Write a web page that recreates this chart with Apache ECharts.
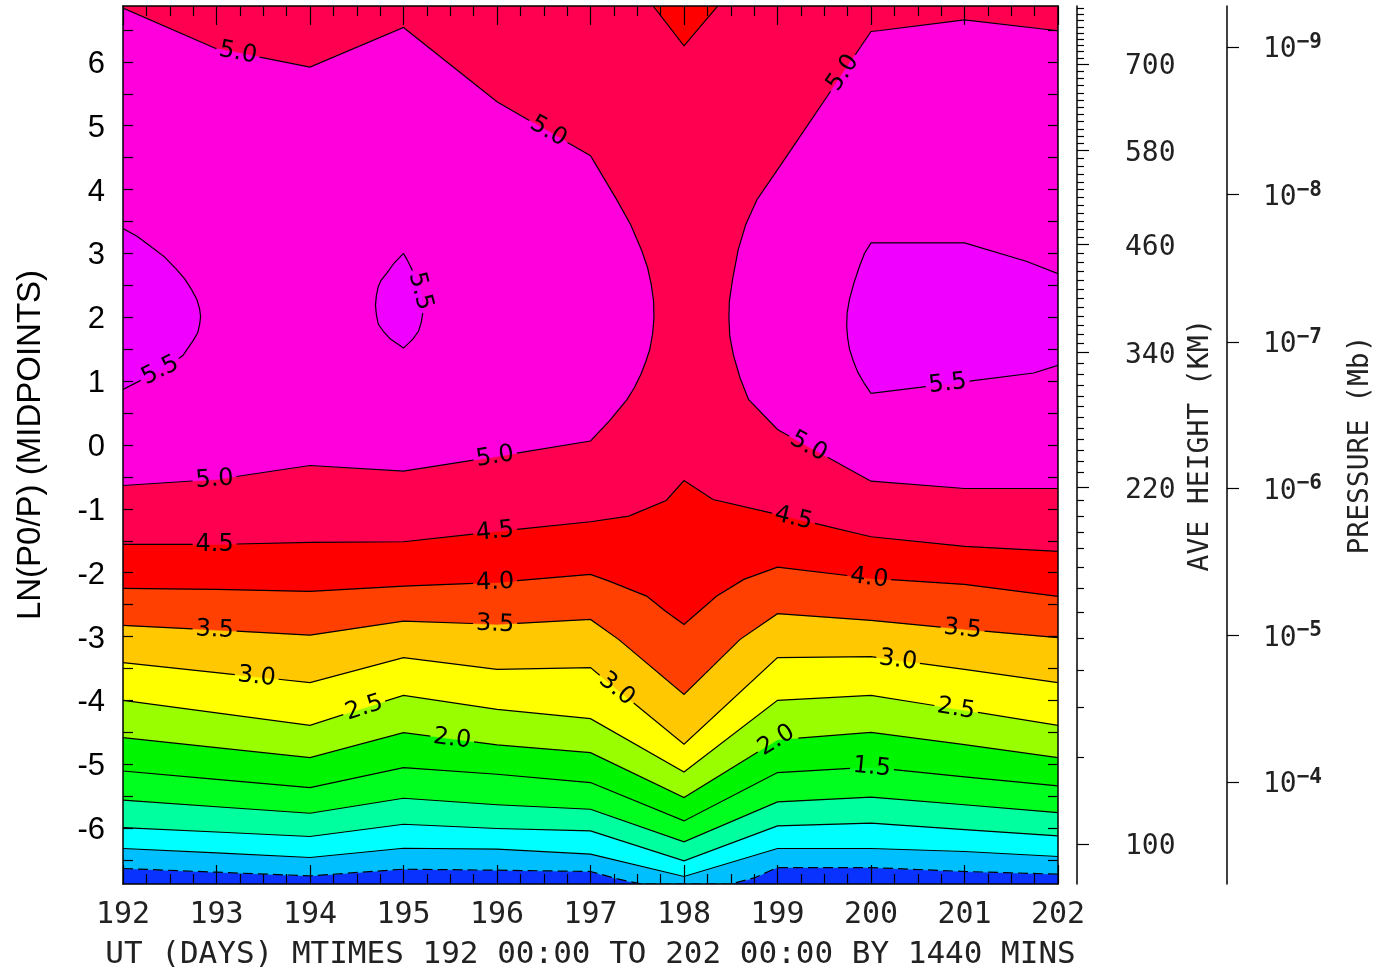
<!DOCTYPE html>
<html><head><meta charset="utf-8">
<script src="https://cdn.jsdelivr.net/npm/echarts@6/dist/echarts.min.js"></script>
<style>html,body{margin:0;padding:0;background:#fff}#chart{width:1388px;height:973px}</style>
</head><body><div id="chart"></div>
<script>
// ---------------- data (x = UT day, y = LN(P0/P)) ----------------
const days = [192,193,194,195,196,197,198,199,200,201,202];
const yMin = -6.875, yMax = 6.875;
const leftTickLabels = [-6,-5,-4,-3,-2,-1,0,1,2,3,4,5,6];
const frameTicks = [-6.5,-6,-5.5,-5,-4.5,-4,-3.5,-3,-2.5,-2,-1.5,-1,-0.5,0,0.5,1,1.5,2,2.5,3,3.5,4,4.5,5,5.5,6,6.5];
const heightLabels = [100,220,340,460,580,700];
const heightLabelLn = [-6.252,-0.665,1.452,3.138,4.614,5.966];
const heightAnchorKm = [100,110,120,130,140,150,160,170,180,190,200,210,220,230,240,340,460,580,700,790];
const heightAnchorLn = [-6.252,-4.890,-4.108,-3.529,-3.028,-2.621,-2.246,-1.917,-1.620,-1.369,-1.119,-0.869,-0.665,-0.432,-0.250,1.452,3.138,4.614,5.966,6.842];
const pressureExp = [-9,-8,-7,-6,-5,-4];
const pressureLn = [6.232,3.920,1.615,-0.681,-2.981,-5.277];

// contour lines
const cm05 = [[192,-6.632],[193,-6.690],[194,-6.748],[195,-6.643],[196,-6.659],[197,-6.679],[197.3,-6.80],[197.55,-6.92],[198.5,-6.92],[198.75,-6.78],[199,-6.617],[200,-6.617],[201,-6.679],[202,-6.721]];
const c00 = [[192,-6.319],[193,-6.388],[194,-6.460],[195,-6.315],[196,-6.330],[197,-6.408],[198,-6.757],[199,-6.319],[200,-6.319],[201,-6.366],[202,-6.444]];
const c05 = [[192,-5.991],[193,-6.061],[194,-6.131],[195,-5.939],[196,-6.006],[197,-6.044],[198,-6.513],[199,-5.966],[200,-5.923],[201,-6.022],[202,-6.122]];
const c10 = [[192,-5.563],[193,-5.665],[194,-5.767],[195,-5.532],[196,-5.634],[197,-5.704],[198,-6.216],[199,-5.590],[200,-5.516],[201,-5.634],[202,-5.756]];
const c15 = [[192,-5.105],[193,-5.235],[194,-5.365],[195,-5.052],[196,-5.156],[197,-5.286],[198,-5.887],[199,-5.130],[200,-5.047],[201,-5.196],[202,-5.339]];
const c20 = [[192,-4.582],[193,-4.739],[194,-4.895],[195,-4.504],[196,-4.695],[197,-4.817],[198,-5.521],[199,-4.617],[200,-4.499],[201,-4.692],[202,-4.895]];
const c25 = [[192,-3.998],[193,-4.194],[194,-4.390],[195,-3.920],[196,-4.139],[197,-4.285],[198,-5.121],[199,-3.998],[200,-3.920],[201,-4.155],[202,-4.390]];
const c30 = [[192,-3.408],[193,-3.565],[194,-3.721],[195,-3.330],[196,-3.513],[197,-3.487],[198,-4.687],[199,-3.330],[200,-3.315],[201,-3.513],[202,-3.721]];
const c35 = [[192,-2.825],[193,-2.898],[194,-2.977],[195,-2.757],[196,-2.809],[197,-2.731],[197.3,-3.044],[198,-3.905],[198.6,-3.044],[199,-2.642],[200,-2.746],[201,-2.887],[202,-3.017]];
const c40 = [[192,-2.246],[193,-2.261],[194,-2.293],[195,-2.210],[196,-2.152],[197,-2.027],[197.2,-2.131],[197.6,-2.366],[197.8,-2.601],[198,-2.809],[198.35,-2.366],[198.64,-2.105],[199,-1.912],[200,-2.089],[201,-2.183],[202,-2.371]];
const c45 = [[192,-1.557],[193,-1.557],[194,-1.526],[195,-1.515],[196,-1.354],[197,-1.202],[197.41,-1.114],[197.81,-0.869],[198,-0.556],[198.31,-0.853],[199,-1.088],[200,-1.437],[201,-1.588],[202,-1.667]];
const c45top = [[197.67,6.875],[198,6.252],[198.36,6.875]];
const c50L = [[192,6.842],[193,6.205],[194,5.919],[195,6.538],[196,5.375],[197,4.531],[197.28,3.842],[197.43,3.45],[197.544,3.059],[197.61,2.78],[197.65,2.512],[197.675,2.25],[197.679,1.995],[197.665,1.75],[197.634,1.495],[197.59,1.30],[197.538,1.103],[197.47,0.90],[197.39,0.712],[197.2,0.375],[197,0.063],[196,-0.180],[195,-0.410],[194,-0.321],[193,-0.540],[192,-0.634]];
const c50R = [[202,6.487],[201,6.659],[200.1,6.491],[200,6.476],[199.03,4.374],[198.78,3.842],[198.66,3.45],[198.58,3.06],[198.52,2.60],[198.485,2.25],[198.48,2.0],[198.49,1.70],[198.53,1.40],[198.60,1.05],[198.69,0.712],[199.0,0.243],[200,-0.567],[201,-0.681],[202,-0.681]];
const c55L = [[192,3.39],[192.15,3.27],[192.29,3.118],[192.44,2.95],[192.57,2.754],[192.66,2.60],[192.73,2.441],[192.79,2.28],[192.82,2.128],[192.83,2.01],[192.82,1.894],[192.80,1.76],[192.75,1.635],[192.64,1.400],[192.42,1.18],[192.2,1.02],[192,0.869]];
const c55M = [[195.0,3.001],[194.90,2.85],[194.82,2.688],[194.76,2.58],[194.73,2.480],[194.71,2.34],[194.70,2.191],[194.71,2.04],[194.73,1.894],[194.79,1.77],[194.86,1.659],[194.93,1.59],[195.0,1.518],[195.1,1.659],[195.16,1.78],[195.19,1.921],[195.21,2.11],[195.2,2.30],[195.16,2.52],[195.1,2.719],[195.05,2.87]];
const c55R = [[202,2.684],[201.66,2.877],[201,3.164],[200,3.164],[199.93,3.00],[199.88,2.811],[199.82,2.55],[199.77,2.285],[199.745,2.07],[199.74,1.867],[199.75,1.68],[199.77,1.502],[199.81,1.32],[199.86,1.137],[199.93,0.96],[200,0.808],[201.74,1.127],[202,1.247]];

// label anchors: [line, x (day), occurrence along the line]
const contourLabels = [
  ['c50L',193.23,0],['c50L',196.55,0],['c50R',199.70,0],
  ['c55L',192.40,1],['c55M',195.18,1],['c55R',200.82,1],
  ['c50L',192.98,1],['c50L',195.98,1],['c50R',199.33,1],
  ['c45',192.98,0],['c45',195.98,0],['c45',199.17,0],
  ['c40',195.98,0],['c40',199.98,0],
  ['c35',192.98,0],['c35',195.98,0],['c35',200.98,0],
  ['c30',193.43,0],['c30',197.28,0],['c30',200.29,0],
  ['c25',194.58,0],['c25',200.91,0],
  ['c20',195.52,0],['c20',198.99,0],
  ['c15',200.01,0]
];

const xTitle = 'UT (DAYS) MTIMES 192 00:00 TO 202 00:00 BY 1440 MINS';

// ---------------- styling ----------------
const colBelow = '#0a32ff';
const bandColors = {cm05:'#00bfff', c00:'#00ffff', c05:'#00ff9f', c10:'#00ff1e', c15:'#00f500', c20:'#99ff00',
  c25:'#ffff00', c30:'#ffc800', c35:'#ff4000', c40:'#ff0000', c45:'#ff0050', c50:'#ff00dc', c55:'#f000ff'};
const lines = {cm05, c00, c05, c10, c15, c20, c25, c30, c35, c40, c45, c45top, c50L, c50R, c55L, c55M, c55R};
const lineLevel = {cm05:'-0.5', c00:'0.0', c05:'0.5', c10:'1.0', c15:'1.5', c20:'2.0', c25:'2.5', c30:'3.0', c35:'3.5',
  c40:'4.0', c45:'4.5', c45top:'4.5', c50L:'5.0', c50R:'5.0', c55L:'5.5', c55M:'5.5', c55R:'5.5'};
const closedLines = {c55M:true};
const mono = '"DejaVu Sans Mono", monospace';
const sans = '"Liberation Sans", Arial, sans-serif';

const x0 = days[0], x1 = days[days.length-1];
function clampY(v){ return Math.max(yMin, Math.min(yMax, v)); }
function above(line){ return line.concat([[x1,yMax],[x0,yMax]]); }

function renderFills(params, api){
  const polys = [];
  polys.push([[[x0,yMin],[x1,yMin],[x1,yMax],[x0,yMax]], colBelow]);
  ['cm05','c00','c05','c10','c15','c20','c25','c30','c35','c40'].forEach(k=>polys.push([above(lines[k]), bandColors[k]]));
  polys.push([c45.concat([[x1,yMax]]).concat(c45top.slice().reverse()).concat([[x0,yMax]]), bandColors.c45]);
  polys.push([c50L, bandColors.c50]);
  polys.push([c50R, bandColors.c50]);
  polys.push([c55L, bandColors.c55]);
  polys.push([c55M, bandColors.c55]);
  polys.push([c55R, bandColors.c55]);
  return {type:'group', children: polys.map(([pts,col])=>({
    type:'polygon', silent:true,
    shape:{points: pts.map(p=>api.coord([p[0], clampY(p[1])]))},
    style:{fill: col, stroke: col, lineWidth: 0.6}
  }))};
}

function renderLines(params, api){
  const children = [];
  Object.keys(lines).forEach(key=>{
    const pts = lines[key].slice();
    if (closedLines[key]) pts.push(lines[key][0]);
    const px = pts.map(p=>api.coord([p[0], clampY(p[1])]));
    const s = [0];
    for (let i=1;i<px.length;i++) s.push(s[i-1] + Math.hypot(px[i][0]-px[i-1][0], px[i][1]-px[i-1][1]));
    const total = s[s.length-1];
    const gaps = [];
    contourLabels.filter(l=>l[0]===key).forEach(([k, lx, occWanted])=>{
      let occ = 0, seg = -1;
      for (let i=0;i<pts.length-1;i++){
        const a=pts[i], b=pts[i+1];
        const lo=Math.min(a[0],b[0]), hi=Math.max(a[0],b[0]);
        if (hi>lo && lx>=lo && lx<=hi){ if (occ===occWanted){ seg=i; break; } occ++; }
      }
      if (seg<0) return;
      const a=pts[seg], b=pts[seg+1];
      const t=(lx-a[0])/(b[0]-a[0]);
      const pa=px[seg], pb=px[seg+1];
      const P=[pa[0]+t*(pb[0]-pa[0]), pa[1]+t*(pb[1]-pa[1])];
      const s0 = s[seg] + t*(s[seg+1]-s[seg]);
      let ang = Math.atan2(pb[1]-pa[1], pb[0]-pa[0]);
      if (ang > Math.PI/2) ang -= Math.PI;
      if (ang <= -Math.PI/2) ang += Math.PI;
      const txt = lineLevel[key];
      const hw = 22;
      gaps.push([s0-hw, s0+hw]);
      children.push({type:'text', silent:true, x:P[0], y:P[1], rotation:-ang, z2:5,
        style:{text: txt, fontSize: 24, fontFamily: '"DejaVu Sans"', fill:'#000', align:'center', verticalAlign:'middle'}});
    });
    function pointAt(u){
      for (let i=0;i<px.length-1;i++){
        if (u<=s[i+1] || i===px.length-2){
          const f = s[i+1]>s[i] ? (u-s[i])/(s[i+1]-s[i]) : 0;
          return [px[i][0]+f*(px[i+1][0]-px[i][0]), px[i][1]+f*(px[i+1][1]-px[i][1])];
        }
      }
      return px[px.length-1];
    }
    gaps.sort((g,h)=>g[0]-h[0]);
    const vis=[]; let cur=0;
    gaps.forEach(g=>{ if (g[0]>cur) vis.push([cur, Math.min(g[0],total)]); cur=Math.max(cur,g[1]); });
    if (cur<total) vis.push([cur,total]);
    vis.forEach(([u,v])=>{
      const out=[pointAt(u)];
      for (let i=0;i<px.length;i++) if (s[i]>u && s[i]<v) out.push(px[i]);
      out.push(pointAt(v));
      children.push({type:'polyline', silent:true, shape:{points: out},
        style:{stroke:'#000', lineWidth:1.2, fill:null, lineDash: key==='cm05' ? [10,5] : null}});
    });
  });
  return {type:'group', children};
}

// height axis minor ticks every 10 km
const heightMinorKm = [];
for (let h=110; h<=790; h+=10) if (heightLabels.indexOf(h)<0) heightMinorKm.push(h);
function kmToLn(h){
  for (let i=0;i<heightAnchorKm.length-1;i++){
    if (h>=heightAnchorKm[i] && h<=heightAnchorKm[i+1]){
      const f=(h-heightAnchorKm[i])/(heightAnchorKm[i+1]-heightAnchorKm[i]);
      return heightAnchorLn[i]+f*(heightAnchorLn[i+1]-heightAnchorLn[i]);
    }
  }
  return null;
}
const heightMinorLn = heightMinorKm.map(kmToLn).filter(v=>v!==null && v<=yMax);

function idxOf(arr, v){ let b=0; for (let i=1;i<arr.length;i++) if (Math.abs(arr[i]-v)<Math.abs(arr[b]-v)) b=i; return b; }

const axisBlack = {color:'#000', width:1.5};
const tickStyle = {color:'#000', width:1.2};

const option = {
  animation:false,
  backgroundColor:'#fff',
  grid:{left:123, right:330, top:6, bottom:89, containLabel:false, outerBoundsMode:'none'},
  xAxis:[
    {type:'value', min:192, max:202, interval:1, position:'bottom', z:10,
     axisLine:{show:true, onZero:false, lineStyle:axisBlack},
     axisTick:{show:true, inside:true, length:19, lineStyle:tickStyle},
     minorTick:{show:true, splitNumber:4, length:10, lineStyle:tickStyle},
     axisLabel:{margin:16, fontFamily:mono, fontSize:30, color:'#222'},
     splitLine:{show:false}, minorSplitLine:{show:false},
     name:xTitle, nameLocation:'middle', nameGap:55,
     nameTextStyle:{fontFamily:mono, fontSize:31, color:'#222'}},
    {type:'value', min:192, max:202, interval:1, position:'top', z:10,
     axisLine:{show:true, onZero:false, lineStyle:axisBlack},
     axisTick:{show:true, inside:true, length:19, lineStyle:tickStyle},
     minorTick:{show:true, splitNumber:4, length:10, lineStyle:tickStyle},
     axisLabel:{show:false}, splitLine:{show:false}}
  ],
  yAxis:[
    {type:'value', min:yMin, max:yMax, position:'left', z:10,
     axisLine:{show:true, onZero:false, lineStyle:axisBlack},
     axisTick:{show:true, inside:true, length:10, lineStyle:tickStyle, customValues:frameTicks},
     axisLabel:{margin:18, customValues:leftTickLabels,
       formatter:v=>'{v|' + String(Math.round(v)) + '}',
       rich:{v:{fontFamily:sans, fontSize:31, color:'#000', padding:[5,0,0,0]}}},
     splitLine:{show:false},
     name:'LN(P0/P) (MIDPOINTS)', nameLocation:'middle', nameGap:76, nameRotate:90,
     nameTextStyle:{fontFamily:sans, fontSize:33, color:'#000'}},
    {type:'value', min:yMin, max:yMax, position:'right', offset:0, z:10,
     axisLine:{show:true, onZero:false, lineStyle:axisBlack},
     axisTick:{show:true, inside:true, length:10, lineStyle:tickStyle, customValues:frameTicks},
     axisLabel:{show:false}, splitLine:{show:false}},
    {type:'value', min:yMin, max:yMax, position:'right', offset:19, z:10,
     axisLine:{show:true, onZero:false, lineStyle:axisBlack},
     axisTick:{show:true, inside:false, length:12, lineStyle:tickStyle, customValues:heightLabelLn},
     axisLabel:{margin:48, customValues:heightLabelLn,
       formatter:v=>'{h|' + String(heightLabels[idxOf(heightLabelLn, v)]) + '}',
       rich:{h:{fontFamily:mono, fontSize:28, color:'#222', padding:[6,0,0,0]}}},
     splitLine:{show:false},
     name:'AVE HEIGHT (KM)', nameLocation:'middle', nameGap:90, nameRotate:90,
     nameTextStyle:{fontFamily:mono, fontSize:28, color:'#222'}},
    {type:'value', min:yMin, max:yMax, position:'right', offset:19, z:10,
     axisLine:{show:false},
     axisTick:{show:true, inside:false, length:7, lineStyle:tickStyle, customValues:heightMinorLn},
     axisLabel:{show:false}, splitLine:{show:false}},
    {type:'value', min:yMin, max:yMax, position:'right', offset:169, z:10,
     axisLine:{show:true, onZero:false, lineStyle:axisBlack},
     axisTick:{show:true, inside:false, length:12, lineStyle:tickStyle, customValues:pressureLn},
     axisLabel:{margin:36, customValues:pressureLn,
       formatter:v=>'{a|10}{b|\u2212' + Math.abs(pressureExp[idxOf(pressureLn, v)]) + '}',
       rich:{a:{fontFamily:mono, fontSize:28, color:'#222', lineHeight:30, padding:[6,0,0,0]},
             b:{fontFamily:mono, fontSize:21, fontWeight:'bold', color:'#222', verticalAlign:'top'}}},
     splitLine:{show:false},
     name:'PRESSURE (Mb)', nameLocation:'middle', nameGap:120, nameRotate:90,
     nameTextStyle:{fontFamily:mono, fontSize:28, color:'#222'}}
  ],
  series:[
    {type:'custom', coordinateSystem:'cartesian2d', xAxisIndex:0, yAxisIndex:0, z:2, clip:true,
     data:[[192,0]], encode:{x:0,y:1}, renderItem:renderFills, silent:true},
    {type:'custom', coordinateSystem:'cartesian2d', xAxisIndex:0, yAxisIndex:0, z:3, clip:true,
     data:[[192,0]], encode:{x:0,y:1}, renderItem:renderLines, silent:true}
  ]
};
const chart = echarts.init(document.getElementById('chart'));
chart.setOption(option);
</script></body></html>
